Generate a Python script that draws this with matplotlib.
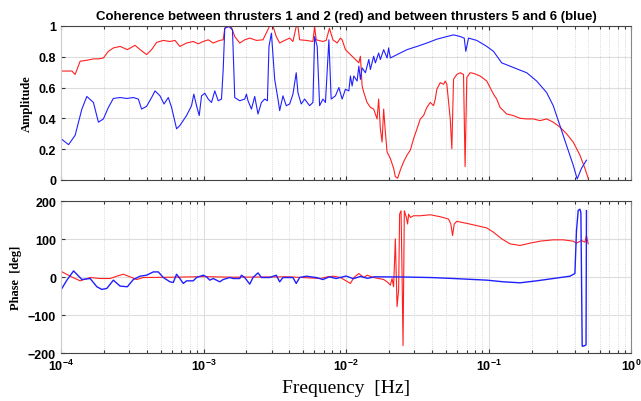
import numpy as np
import matplotlib
matplotlib.use("Agg")
import matplotlib.pyplot as plt
from matplotlib.ticker import LogLocator, NullFormatter

# values; frequencies given as log10(f / Hz)
red_amp_lf = [-4.000, -3.923, -3.900, -3.865, -3.818, -3.772, -3.737, -3.702, -3.667, -3.632,
              -3.585, -3.534, -3.480, -3.445, -3.399, -3.364, -3.329, -3.282, -3.235, -3.200,
              -3.166, -3.119, -3.072, -3.037, -3.002, -2.967, -2.932, -2.886, -2.862, -2.851,
              -2.828, -2.804, -2.781, -2.746, -2.711, -2.676, -2.629, -2.583, -2.536, -2.513,
              -2.490, -2.466, -2.431, -2.396, -2.373, -2.350, -2.338, -2.326, -2.280, -2.233,
              -2.221, -2.210, -2.163, -2.140, -2.117, -2.093, -2.063, -2.040, -2.028, -2.005,
              -1.981, -1.958, -1.935, -1.911, -1.900, -1.888, -1.876, -1.853, -1.830, -1.807,
              -1.783, -1.772, -1.760, -1.748, -1.737, -1.725, -1.713, -1.690, -1.667, -1.655,
              -1.639, -1.620, -1.597, -1.573, -1.550, -1.527, -1.503, -1.480, -1.457, -1.434,
              -1.410, -1.387, -1.375, -1.364, -1.340, -1.317, -1.305, -1.294, -1.270, -1.259,
              -1.247, -1.224, -1.200, -1.177, -1.166, -1.154, -1.131, -1.107, -1.061, -1.014,
              -0.991, -0.967, -0.944, -0.921, -0.874, -0.828, -0.781, -0.734, -0.688, -0.641,
              -0.594, -0.548, -0.501, -0.455, -0.408, -0.361, -0.326, -0.303]
red_amp = [0.707, 0.707, 0.685, 0.771, 0.777, 0.786, 0.786, 0.792, 0.835, 0.857,
           0.867, 0.846, 0.874, 0.846, 0.814, 0.846, 0.893, 0.906, 0.899, 0.906,
           0.867, 0.889, 0.899, 0.884, 0.899, 0.910, 0.889, 0.906, 0.910, 0.985,
           1.000, 0.991, 0.931, 0.889, 0.910, 0.921, 0.906, 0.910, 1.000, 1.000,
           0.931, 0.889, 0.906, 0.921, 0.899, 0.996, 0.996, 0.910, 0.906, 0.899,
           0.996, 0.910, 0.899, 0.906, 0.985, 0.910, 0.889, 0.921, 0.910, 0.846,
           0.824, 0.803, 0.782, 0.760, 0.803, 0.610, 0.567, 0.503, 0.471, 0.460,
           0.396, 0.525, 0.332, 0.246, 0.460, 0.310, 0.182, 0.139, 0.075, 0.021,
           0.011, 0.064, 0.118, 0.161, 0.193, 0.268, 0.332, 0.396, 0.418, 0.471,
           0.503, 0.482, 0.525, 0.589, 0.632, 0.621, 0.642, 0.621, 0.396, 0.203,
           0.653, 0.685, 0.696, 0.685, 0.086, 0.664, 0.696, 0.692, 0.675, 0.642,
           0.600, 0.557, 0.525, 0.471, 0.428, 0.418, 0.400, 0.396, 0.396, 0.385,
           0.396, 0.375, 0.343, 0.300, 0.246, 0.161, 0.075, 0.011]

blue_amp_lf = [-4.000, -3.946, -3.900, -3.853, -3.818, -3.772, -3.737, -3.702, -3.667, -3.632,
               -3.585, -3.538, -3.492, -3.457, -3.434, -3.399, -3.364, -3.340, -3.305, -3.277,
               -3.247, -3.224, -3.189, -3.166, -3.119, -3.084, -3.068, -3.049, -3.030, -3.014,
               -2.991, -2.967, -2.944, -2.921, -2.897, -2.874, -2.862, -2.851, -2.821, -2.797,
               -2.781, -2.746, -2.711, -2.699, -2.688, -2.664, -2.641, -2.618, -2.594, -2.571,
               -2.552, -2.541, -2.524, -2.501, -2.478, -2.466, -2.443, -2.420, -2.396, -2.373,
               -2.350, -2.338, -2.315, -2.291, -2.256, -2.233, -2.221, -2.203, -2.186, -2.163,
               -2.145, -2.121, -2.105, -2.075, -2.051, -2.028, -2.005, -1.981, -1.970, -1.958,
               -1.946, -1.923, -1.911, -1.900, -1.888, -1.865, -1.841, -1.830, -1.807, -1.795,
               -1.772, -1.760, -1.737, -1.713, -1.702, -1.690, -1.643, -1.573, -1.503, -1.434,
               -1.364, -1.294, -1.247, -1.200, -1.172, -1.161, -1.142, -1.084, -1.014, -0.967,
               -0.909, -0.851, -0.781, -0.734, -0.664, -0.594, -0.548, -0.501, -0.455, -0.408,
               -0.380, -0.350, -0.315]
blue_amp = [0.268, 0.229, 0.290, 0.460, 0.542, 0.503, 0.375, 0.396, 0.471, 0.529,
            0.535, 0.529, 0.535, 0.525, 0.460, 0.478, 0.535, 0.578, 0.546, 0.493,
            0.535, 0.471, 0.332, 0.353, 0.418, 0.482, 0.557, 0.482, 0.418, 0.546,
            0.563, 0.525, 0.503, 0.578, 0.514, 0.525, 0.717, 0.985, 0.996, 0.974,
            0.535, 0.514, 0.525, 0.557, 0.514, 0.460, 0.542, 0.428, 0.503, 0.525,
            0.514, 0.867, 0.953, 0.653, 0.525, 0.450, 0.546, 0.482, 0.493, 0.557,
            0.696, 0.567, 0.493, 0.525, 0.482, 0.503, 0.931, 0.867, 0.482, 0.525,
            0.503, 0.910, 0.525, 0.546, 0.600, 0.525, 0.589, 0.578, 0.675, 0.610,
            0.675, 0.642, 0.739, 0.653, 0.728, 0.696, 0.782, 0.717, 0.803, 0.760,
            0.824, 0.782, 0.846, 0.792, 0.857, 0.792, 0.814, 0.846, 0.867, 0.889,
            0.914, 0.931, 0.942, 0.931, 0.921, 0.835, 0.921, 0.906, 0.867, 0.835,
            0.760, 0.739, 0.713, 0.696, 0.642, 0.567, 0.482, 0.353, 0.225, 0.096,
            0.006, 0.075, 0.128]

red_ph_lf = [-4.000, -3.935, -3.865, -3.795, -3.725, -3.655, -3.608, -3.562, -3.503, -3.469,
             -3.422, -3.200, -3.000, -2.800, -2.600, -2.400, -2.179, -2.133, -2.086, -2.040,
             -1.970, -1.946, -1.911, -1.876, -1.853, -1.807, -1.772, -1.737, -1.713, -1.690,
             -1.678, -1.667, -1.655, -1.643, -1.632, -1.625, -1.615, -1.608, -1.601, -1.592,
             -1.578, -1.569, -1.562, -1.550, -1.527, -1.480, -1.410, -1.340, -1.282, -1.266,
             -1.254, -1.242, -1.224, -1.154, -1.084, -1.014, -0.967, -0.909, -0.851, -0.781,
             -0.711, -0.641, -0.548, -0.478, -0.408, -0.385, -0.350, -0.326, -0.315, -0.303]
red_ph = [15.7, 2.6, -9.6, -0.9, -3.5, -3.5, 2.6, 7.8, -0.9, -6.1,
          -0.9, 0.0, 1.5, 0.0, 0.5, 1.0, -3.5, 0.9, 2.6, -0.9,
          -16.5, -0.9, 9.6, -0.9, 5.2, -0.9, -3.5, -6.1, -12.2, -20.9,
          -3.5, -25.2, 100.9, -77.4, -33.9, 166.0, 174.8, 9.6, -180.0, 174.8,
          157.4, 140.0, 166.0, 157.4, 161.7, 161.7, 164.3, 159.1, 153.0, 140.0,
          109.6, 140.0, 147.0, 141.7, 135.7, 129.6, 118.3, 100.9, 87.8, 83.5,
          89.6, 94.8, 98.3, 98.3, 94.8, 89.6, 96.5, 92.2, 109.6, 87.8]

blue_ph_lf = [-4.000, -3.958, -3.911, -3.853, -3.795, -3.748, -3.713, -3.678, -3.632, -3.585,
              -3.534, -3.492, -3.445, -3.399, -3.352, -3.317, -3.282, -3.235, -3.212, -3.189,
              -3.166, -3.142, -3.119, -3.072, -3.049, -3.002, -2.979, -2.956, -2.932, -2.886,
              -2.862, -2.816, -2.793, -2.746, -2.734, -2.711, -2.676, -2.653, -2.618, -2.594,
              -2.536, -2.490, -2.466, -2.443, -2.373, -2.350, -2.326, -2.280, -2.210, -2.163,
              -2.117, -2.070, -2.000, -1.950, -1.900, -1.850, -1.800, -1.600, -1.400, -1.247,
              -1.014, -0.897, -0.781, -0.664, -0.548, -0.431, -0.396, -0.385, -0.373, -0.361,
              -0.354, -0.345, -0.343, -0.326, -0.318, -0.315]
blue_ph = [-33.9, -7.8, 16.5, -6.1, -3.5, -25.2, -32.2, -29.6, -7.8, -23.5,
           -25.2, -6.1, 2.6, 5.2, 13.9, 13.9, -0.9, -12.2, -13.9, 7.8,
           -3.5, -16.5, -9.6, -9.6, -0.9, 5.2, 0.9, -7.8, -3.5, -12.2,
           -6.1, -0.9, -3.5, -3.5, 5.2, -0.9, -18.3, -0.9, 11.3, -0.9,
           -0.9, 5.2, -12.2, -0.9, -0.9, -16.5, -0.9, 2.6, -0.9, -6.1,
           0.9, -3.5, 3.0, -4.0, 2.0, -3.0, 1.0, 0.5, -1.0, -3.5,
           -7.8, -12.2, -14.8, -9.6, -3.5, 2.6, 9.6, 122.0, 175.7, 179.0,
           170.0, -180.0, -182.0, -180.0, -178.0, 175.0]

amp_ticks = [0, 0.2, 0.4, 0.6, 0.8, 1]
ph_ticks = [-200, -100, 0, 100, 200]

f_red_amp = 10.0 ** np.array(red_amp_lf)
f_blue_amp = 10.0 ** np.array(blue_amp_lf)
f_red_ph = 10.0 ** np.array(red_ph_lf)
f_blue_ph = 10.0 ** np.array(blue_ph_lf)

plt.rcParams['font.family'] = ['Liberation Sans', 'DejaVu Sans']

fig = plt.figure(figsize=(6.41, 4.02), dpi=100)
ax1 = fig.add_axes([0.095, 0.55, 0.89, 0.383])
ax2 = fig.add_axes([0.095, 0.119, 0.89, 0.378])


def style(ax, ticks):
    ax.set_xscale('log')
    ax.set_xlim(1e-4, 1)
    ax.set_yticks(ticks)
    ax.set_ylim(ticks[0], ticks[-1])
    ax.xaxis.set_major_locator(LogLocator(base=10, numticks=10))
    ax.xaxis.set_minor_locator(LogLocator(base=10, subs=np.arange(2, 10), numticks=50))
    ax.xaxis.set_minor_formatter(NullFormatter())
    ax.grid(True, which='major', color='#dddddd', lw=0.8, ls='-')
    ax.grid(True, which='minor', axis='x', color='#cccccc', lw=0.6, ls=':')
    ax.tick_params(which='both', direction='in', top=True, right=False,
                   labelsize=9, width=0.8, color='#333333')
    ax.tick_params(which='major', length=3)
    ax.tick_params(which='minor', length=2)
    for lab in ax.get_yticklabels() + ax.get_xticklabels():
        lab.set_fontweight('bold')
    ax.spines['left'].set_color('#cccccc')
    ax.spines['right'].set_color('#888888')
    ax.spines['top'].set_color('#444444')
    ax.spines['bottom'].set_color('#444444')


style(ax1, amp_ticks)
ax1.plot(f_red_amp, red_amp, color='#ff2020', lw=0.8)
ax1.plot(f_blue_amp, blue_amp, color='#2020ff', lw=0.8)
ax1.set_yticklabels(['0', '0.2', '0.4', '0.6', '0.8', '1'], fontweight='bold')
ax1.set_xticklabels([])
ax1.set_title('Coherence between thrusters 1 and 2 (red) and between thrusters 5 and 6 (blue)',
              fontsize=9.5, fontweight='bold', pad=5)
ax1.set_ylabel('Amplitude', family=['Liberation Serif'], fontweight='bold', fontsize=9)

style(ax2, ph_ticks)
ax2.plot(f_red_ph, red_ph, color='#ff2020', lw=0.8)
ax2.plot(f_blue_ph, blue_ph, color='#2020ff', lw=1.0)
ax2.set_ylabel('Phase  [deg]', family=['Liberation Serif'], fontweight='bold', fontsize=9)
ax2.set_xlabel('Frequency  [Hz]', family=['Liberation Serif'], fontsize=14)
for lab in ax2.get_xticklabels() + ax2.get_yticklabels():
    lab.set_fontweight('bold')

fig.savefig('out.png', dpi=100)
